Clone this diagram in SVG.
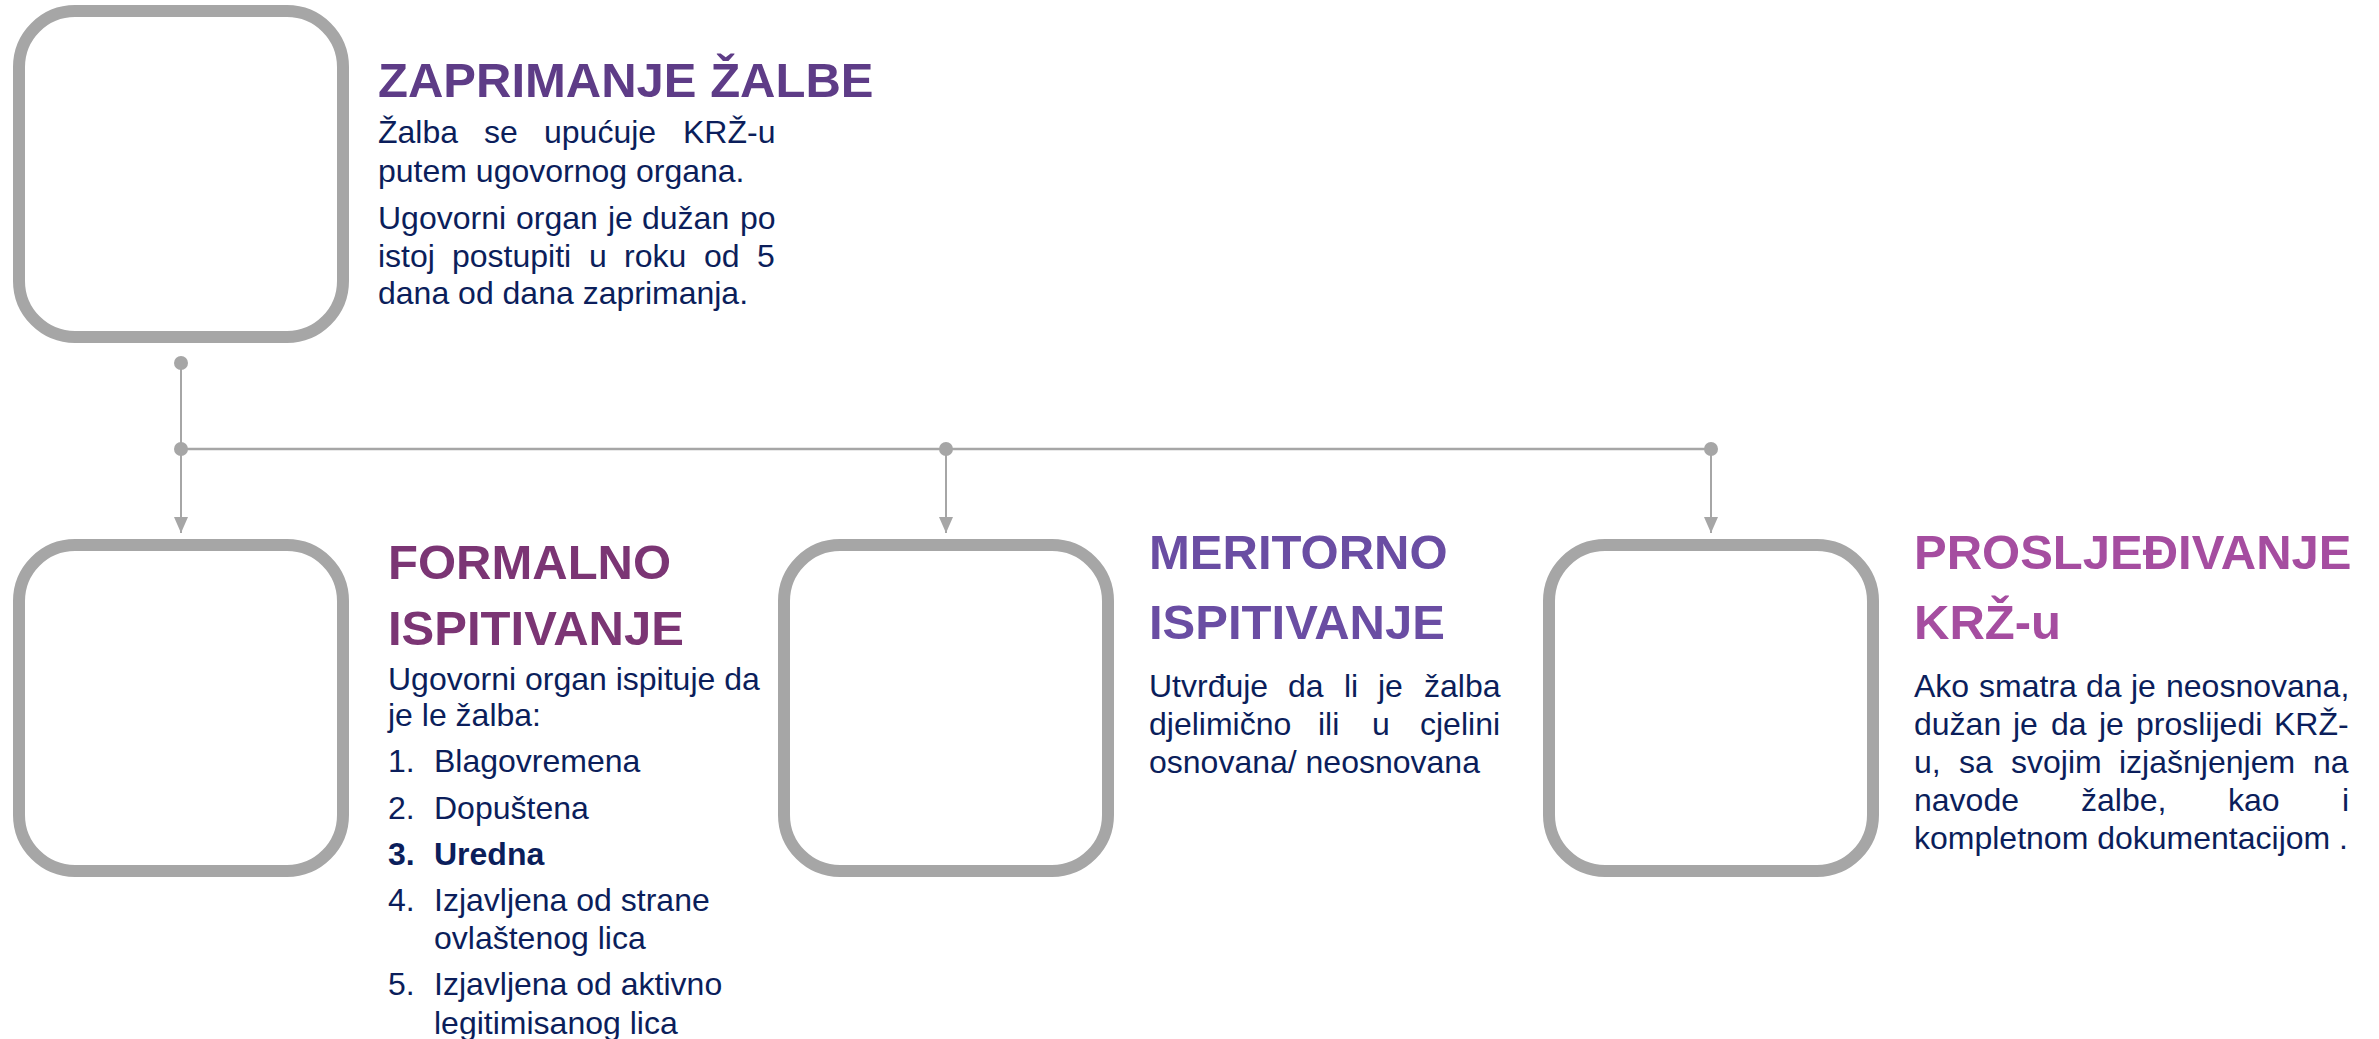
<svg xmlns="http://www.w3.org/2000/svg" width="2379" height="1039" viewBox="0 0 2379 1039">
<style>
.box{fill:#FFFFFF;stroke:#A6A6A6;stroke-width:12}
.t{font-family:"Liberation Sans",Arial,sans-serif;font-weight:bold;font-size:49px}
.b{font-family:"Liberation Sans",Arial,sans-serif;font-size:32px;fill:#0B1E5B}
.bb{font-weight:bold}
.ln{stroke:#A6A6A6;stroke-width:2;fill:none}
.dot{fill:#A6A6A6}
</style>
<defs>
<marker id="arr" viewBox="0 0 16 14" refX="16" refY="7" markerWidth="16" markerHeight="14" markerUnits="userSpaceOnUse" orient="auto">
<path d="M0,0 L16,7 L0,14 z" fill="#A6A6A6"/>
</marker>
</defs>
<rect width="2379" height="1039" fill="#FFFFFF"/>

<g id="connectors">
<line class="ln" x1="181" y1="363" x2="181" y2="449"/>
<line class="ln" x1="181" y1="449" x2="1711" y2="449" style="stroke-width:2.5"/>
<line class="ln" x1="181" y1="449" x2="181" y2="533" marker-end="url(#arr)"/>
<line class="ln" x1="946" y1="449" x2="946" y2="533" marker-end="url(#arr)"/>
<line class="ln" x1="1711" y1="449" x2="1711" y2="533" marker-end="url(#arr)"/>
<circle class="dot" cx="181" cy="363" r="7"/>
<circle class="dot" cx="181" cy="449" r="7"/>
<circle class="dot" cx="946" cy="449" r="7"/>
<circle class="dot" cx="1711" cy="449" r="7"/>
</g>

<g id="node-zaprimanje">
<rect class="box" x="19" y="11" width="324" height="326" rx="56" ry="56"/>
<text class="t" x="378" y="97" fill="#5E3C87">ZAPRIMANJE ŽALBE</text>
<text class="b" y="143"><tspan x="378">Žalba</tspan><tspan x="484">se</tspan><tspan x="544">upućuje</tspan><tspan x="683">KRŽ-u</tspan></text>
<text class="b" x="378" y="182">putem ugovornog organa.</text>
<text class="b" y="229"><tspan x="378">Ugovorni</tspan><tspan x="516">organ</tspan><tspan x="608">je</tspan><tspan x="642">dužan</tspan><tspan x="740">po</tspan></text>
<text class="b" y="267"><tspan x="378">istoj</tspan><tspan x="452">postupiti</tspan><tspan x="589">u</tspan><tspan x="624">roku</tspan><tspan x="704">od</tspan><tspan x="757">5</tspan></text>
<text class="b" x="378" y="304">dana od dana zaprimanja.</text>
</g>

<g id="node-formalno">
<rect class="box" x="19" y="545" width="324" height="326" rx="56" ry="56"/>
<text class="t" x="388" y="579" fill="#7B3574">FORMALNO</text>
<text class="t" x="388" y="645" fill="#7B3574">ISPITIVANJE</text>
<text class="b" x="388" y="690">Ugovorni organ ispituje da</text>
<text class="b" x="388" y="726">je le žalba:</text>
<text class="b" y="772"><tspan x="388">1.</tspan><tspan x="434">Blagovremena</tspan></text>
<text class="b" y="819"><tspan x="388">2.</tspan><tspan x="434">Dopuštena</tspan></text>
<text class="b bb" y="865"><tspan x="388">3.</tspan><tspan x="434">Uredna</tspan></text>
<text class="b" y="911"><tspan x="388">4.</tspan><tspan x="434">Izjavljena od strane</tspan></text>
<text class="b" x="434" y="949">ovlaštenog lica</text>
<text class="b" y="995"><tspan x="388">5.</tspan><tspan x="434">Izjavljena od aktivno</tspan></text>
<text class="b" x="434" y="1034">legitimisanog lica</text>
</g>

<g id="node-meritorno">
<rect class="box" x="784" y="545" width="324" height="326" rx="56" ry="56"/>
<text class="t" x="1149" y="569" fill="#6A4DA3">MERITORNO</text>
<text class="t" x="1149" y="639" fill="#6A4DA3">ISPITIVANJE</text>
<text class="b" y="697"><tspan x="1149">Utvrđuje</tspan><tspan x="1288">da</tspan><tspan x="1344">li</tspan><tspan x="1378">je</tspan><tspan x="1424">žalba</tspan></text>
<text class="b" y="735"><tspan x="1149">djelimično</tspan><tspan x="1318">ili</tspan><tspan x="1372">u</tspan><tspan x="1420">cjelini</tspan></text>
<text class="b" x="1149" y="773">osnovana/ neosnovana</text>
</g>

<g id="node-prosljedivanje">
<rect class="box" x="1549" y="545" width="324" height="326" rx="56" ry="56"/>
<text class="t" x="1914" y="569" fill="#A54DA0">PROSLJEĐIVANJE</text>
<text class="t" x="1914" y="639" fill="#A54DA0">KRŽ-u</text>
<text class="b" y="697"><tspan x="1914">Ako</tspan><tspan x="1979">smatra</tspan><tspan x="2086">da</tspan><tspan x="2131">je</tspan><tspan x="2166">neosnovana,</tspan></text>
<text class="b" y="735"><tspan x="1914">dužan</tspan><tspan x="2013">je</tspan><tspan x="2051">da</tspan><tspan x="2099">je</tspan><tspan x="2136">proslijedi</tspan><tspan x="2274">KRŽ-</tspan></text>
<text class="b" y="773"><tspan x="1914">u,</tspan><tspan x="1959">sa</tspan><tspan x="2011">svojim</tspan><tspan x="2119">izjašnjenjem</tspan><tspan x="2313">na</tspan></text>
<text class="b" y="811"><tspan x="1914">navode</tspan><tspan x="2081">žalbe,</tspan><tspan x="2228">kao</tspan><tspan x="2342">i</tspan></text>
<text class="b" x="1914" y="849">kompletnom dokumentacijom .</text>
</g>
</svg>
